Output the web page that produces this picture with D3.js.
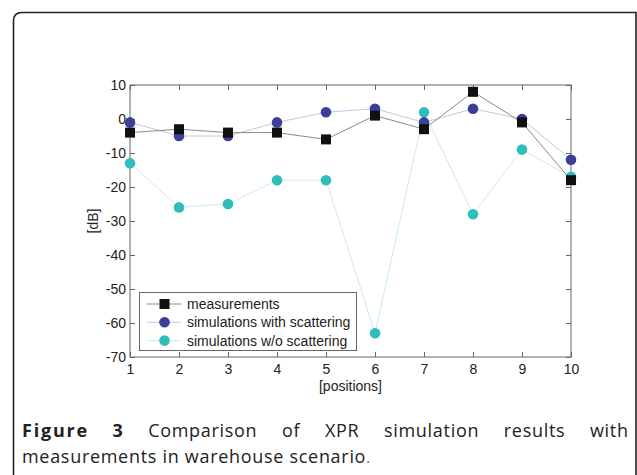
<!DOCTYPE html>
<html>
<head>
<meta charset="utf-8">
<script src="https://cdn.jsdelivr.net/npm/d3@7"></script>
<style>
  body { margin: 0; background: #fff; }
  svg { display: block; }
</style>
</head>
<body>
<svg id="fig" width="637" height="475"></svg>
<script>
const positions = [1, 2, 3, 4, 5, 6, 7, 8, 9, 10];
const measurements = [-4, -3, -4, -4, -6, 1, -3, 8, -1, -18];
const simWithScattering = [-1, -5, -5, -1, 2, 3, -1, 3, 0, -12];
const simWithoutScattering = [-13, -26, -25, -18, -18, -63, 2, -28, -9, -17];
const yTicks = [-70, -60, -50, -40, -30, -20, -10, 0, 10];
const seriesNames = ['measurements', 'simulations with scattering', 'simulations w/o scattering'];
const captionBold = ['Figure', '3'];
const captionLine1 = 'Comparison of XPR simulation results with';
const captionLine2 = 'measurements in warehouse scenario';

const svg = d3.select('#fig');
const plot = {left: 130, top: 85, right: 571, bottom: 357};
const font = 'Liberation Sans, Arial, sans-serif';
const fmt = d => String(d); // plain hyphen minus like the original

// outer frame (rounded corner, running off right/bottom)
svg.append('path')
    .attr('d', 'M13.5,476 L13.5,21 Q13.5,12.5 22,12.5 L636,12.5 L636,476')
    .attr('fill', 'none')
    .attr('stroke', '#222')
    .attr('stroke-width', 1.6);

const x = d3.scaleLinear().domain([1, 10]).range([plot.left, plot.right]);
const y = d3.scaleLinear().domain([-70, 10]).range([plot.bottom, plot.top]);

const series = [
    {name: seriesNames[0], values: measurements, color: '#111', line: '#8a8a8a', shape: 'square'},
    {name: seriesNames[1], values: simWithScattering, color: '#3b3f99', line: '#c6c4e4', shape: 'circle'},
    {name: seriesNames[2], values: simWithoutScattering, color: '#30bdbd', line: '#c8ecec', shape: 'circle'}
];

const g = svg.append('g');

// axes box
g.append('rect')
    .attr('x', plot.left).attr('y', plot.top)
    .attr('width', plot.right - plot.left).attr('height', plot.bottom - plot.top)
    .attr('fill', 'none').attr('stroke', '#666').attr('stroke-width', 1);

const tickLen = 5;
const axisText = {size: 14, color: '#222'};

function styleTicks(a) {
    a.select('.domain').remove();
    a.selectAll('line').attr('stroke', '#666');
    a.attr('font-family', font).attr('font-size', axisText.size);
    a.selectAll('text').attr('fill', axisText.color);
}

g.append('g')
    .attr('transform', `translate(0, ${plot.bottom})`)
    .call(d3.axisBottom(x).tickValues(positions).tickSizeInner(-tickLen).tickSizeOuter(0).tickPadding(7).tickFormat(fmt))
    .call(styleTicks);

g.append('g')
    .attr('transform', `translate(0, ${plot.top})`)
    .call(d3.axisTop(x).tickValues(positions).tickSizeInner(-tickLen).tickSizeOuter(0).tickFormat(''))
    .call(styleTicks);

g.append('g')
    .attr('transform', `translate(${plot.left}, 0)`)
    .call(d3.axisLeft(y).tickValues(yTicks).tickSizeInner(-tickLen).tickSizeOuter(0).tickPadding(4).tickFormat(fmt))
    .call(styleTicks);

g.append('g')
    .attr('transform', `translate(${plot.right}, 0)`)
    .call(d3.axisRight(y).tickValues(yTicks).tickSizeInner(-tickLen).tickSizeOuter(0).tickFormat(''))
    .call(styleTicks);

// axis labels
g.append('text')
    .attr('x', (plot.left + plot.right) / 2).attr('y', plot.bottom + 34)
    .attr('text-anchor', 'middle')
    .attr('font-family', font).attr('font-size', axisText.size).attr('fill', axisText.color)
    .text('[positions]');

g.append('text')
    .attr('transform', `translate(98, ${(plot.top + plot.bottom) / 2}) rotate(-90)`)
    .attr('text-anchor', 'middle')
    .attr('font-family', font).attr('font-size', axisText.size).attr('fill', axisText.color)
    .text('[dB]');

// series lines and markers
const line = d3.line().x((d, i) => x(positions[i])).y(d => y(d));

function drawMarker(sel, s, cx, cy) {
    if (s.shape === 'square') {
        sel.append('rect')
            .attr('x', cx - 5).attr('y', cy - 5).attr('width', 10).attr('height', 10)
            .attr('fill', s.color);
    } else {
        sel.append('circle')
            .attr('cx', cx).attr('cy', cy).attr('r', 5.3)
            .attr('fill', s.color);
    }
}

series.slice().reverse().forEach(s => {
    g.append('path')
        .attr('d', line(s.values))
        .attr('fill', 'none')
        .attr('stroke', s.line)
        .attr('stroke-width', 1);
});
series.slice().reverse().forEach(s => {
    const mg = g.append('g');
    s.values.forEach((v, i) => drawMarker(mg, s, x(positions[i]), y(v)));
});

// legend
const legend = g.append('g');
legend.append('rect')
    .attr('x', 139.5).attr('y', 292.5).attr('width', 217).attr('height', 58)
    .attr('fill', '#fff').attr('stroke', '#666').attr('stroke-width', 1);

series.forEach((s, i) => {
    const ly = 304 + i * 18.3;
    legend.append('line')
        .attr('x1', 147).attr('x2', 181).attr('y1', ly).attr('y2', ly)
        .attr('stroke', s.line).attr('stroke-width', 1);
    drawMarker(legend, s, 164.5, ly);
    legend.append('text')
        .attr('x', 187).attr('y', ly + 5)
        .attr('font-family', font).attr('font-size', axisText.size).attr('fill', axisText.color)
        .text(s.name);
});

// caption, justified first line
const capFont = 'Open Sans, Noto Sans, sans-serif';
const capSize = 18;
const capLeft = 22, capRight = 628;
const boldSpacing = 1.8, normalSpacing = 0.7;
const cap = svg.append('g')
    .attr('font-family', capFont).attr('font-size', capSize).attr('fill', '#222');

const words = captionBold.map(t => ({t: t, b: true}))
    .concat(captionLine1.split(' ').map(t => ({t: t, b: false})));
const nodes = words.map(w => cap.append('text')
    .attr('y', 437)
    .attr('font-weight', w.b ? 700 : 500)
    .attr('letter-spacing', w.b ? boldSpacing : normalSpacing)
    .text(w.t));
const widths = nodes.map((n, i) => n.node().getComputedTextLength() - (words[i].b ? boldSpacing : normalSpacing));
const gap = (capRight - capLeft - d3.sum(widths)) / (words.length - 1);
let cx = capLeft;
nodes.forEach((n, i) => {
    n.attr('x', cx);
    cx += widths[i] + gap;
});

const l2 = cap.append('text').attr('x', capLeft).attr('y', 463)
    .attr('font-weight', 500).attr('letter-spacing', normalSpacing);
l2.append('tspan').text(captionLine2);
l2.append('tspan').attr('font-size', 14).attr('font-weight', 400).attr('fill', '#555').text('.');
</script>
</body>
</html>
